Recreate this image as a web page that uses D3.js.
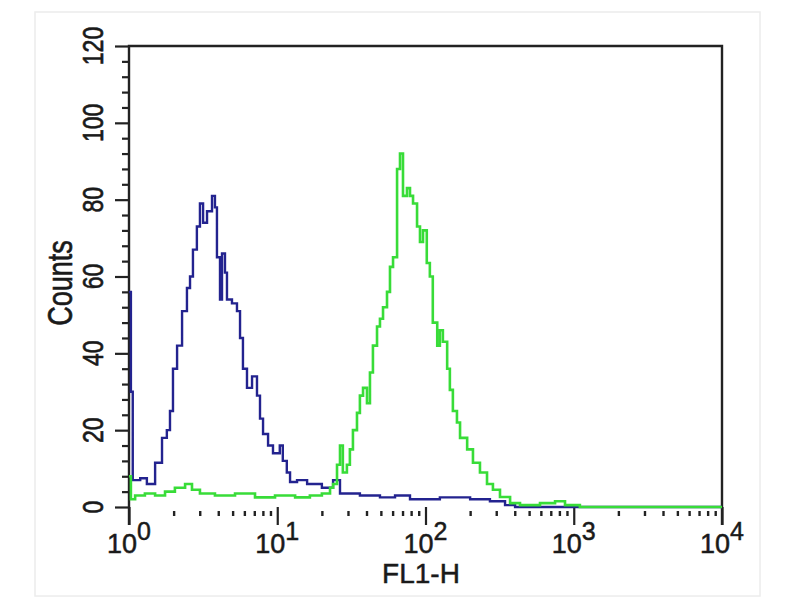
<!DOCTYPE html>
<html><head><meta charset="utf-8">
<script src="https://cdn.jsdelivr.net/npm/d3@7"></script>
<style>body{margin:0;background:#fff}svg{display:block}text{font-family:"Liberation Sans",Arial,sans-serif;fill:#1a1a1a;stroke:#1a1a1a;stroke-width:0.5px}</style>
</head><body>
<svg id="c" width="800" height="600"></svg>
<script>
// FL1-H channel values (bin starts) and counts
const blueX = [1.00,1.03,1.06,1.19,1.32,1.50,1.67,1.80,1.89,1.98,2.11,2.28,2.46,2.58,2.70,2.87,3.01,3.16,3.36,3.63,3.80,3.92,4.11,4.24,4.44,4.58,4.95,5.35,5.61,5.87,6.25,6.76,7.30,7.65,8.02,8.67,9.36,10.4,10.9,11.6,12.2,13.6,15.9,18.5,20.0,23.8,26.5,36.1,49.3,62.3,78.6,125,200,272,344,402,10000];
const blueY = [56,30,7,7.5,6,11.5,18,20,25,36,42,51,57,60,67,73,79,74,77,81,78,65,54,66,61,54,53,51,44,36,31,34,29,23,19,16,14,16,12,9,6.5,7,6,6,5,7,3.5,3,2.5,3,2,2.5,2,1.5,0.5,0,0];
const greenX = [1.00,1.03,1.10,1.28,1.50,1.75,2.04,2.39,2.66,3.01,3.80,5.19,7.08,9.66,13.2,16.6,20.0,22.7,23.8,25.3,26.5,27.7,29.5,30.9,32.4,34.5,36.1,37.9,40.3,42.2,44.2,47.1,49.3,51.7,55.0,57.6,60.4,64.3,67.3,70.5,75.0,78.6,82.4,87.7,91.8,96.2,102,107,112,120,125,131,140,146,153,163,171,191,209,233,260,285,318,372,434,592,748,873,1100,10000];
const greenY = [8,2,3,3.5,3,4,5,6,4.5,3.5,3,3.5,2.5,3,2.5,3,3.5,5,6,11,16,9,11,15,20,24.5,29,31,27,35,42,47,49,52,56,62.5,65,88,92,81,83,81,79,73,69,72,63.5,60,48,42,46,43,36,30.5,25,22,18,15,11.5,9,6,4.5,2.6,1,0.5,1,1.5,0.5,0,0];
const yTicks = [0,20,40,60,80,100,120];
const yMinor = [4,8,12,16,24,28,32,36,44,48,52,56,64,68,72,76,84,88,92,96,104,108,112,116];
const xTicks = [1,10,100,1000,10000];
const xExp = ["0","1","2","3","4"];
const xMinor = [2,3,4,5,6,7,8,9,20,30,40,50,60,70,80,90,200,300,400,500,600,700,800,900,2000,3000,4000,5000,6000,7000,8000,9000];

const svg = d3.select("#c");
const x = d3.scaleLog().domain([1,10000]).range([129,722]);
const y = d3.scaleLinear().domain([0,120]).range([507,46]);

// faint outer border
svg.append("rect").attr("x",35).attr("y",12).attr("width",725).attr("height",584)
  .attr("fill","none").attr("stroke","#ececec").attr("stroke-width",1.5);

// y axis ticks
const ga = svg.append("g").attr("transform","translate(129,0)");
ga.call(d3.axisLeft(y).tickValues(yTicks).tickSize(14).tickFormat(""));
ga.append("g").call(d3.axisLeft(y).tickValues(yMinor).tickSize(7).tickFormat(""));
ga.selectAll("path.domain").remove();
ga.selectAll("line").attr("stroke","#222").attr("stroke-width",2.2);

// x axis ticks
const gx = svg.append("g").attr("transform","translate(0,507)");
gx.call(d3.axisBottom(x).tickValues(xTicks).tickSize(18).tickFormat(""));
const gxm = svg.append("g").attr("transform","translate(0,511)");
gxm.call(d3.axisBottom(x).tickValues(xMinor).tickSize(5).tickFormat(""));
svg.selectAll("path.domain").remove();
gx.selectAll("line").attr("stroke","#222").attr("stroke-width",2.2);
gxm.selectAll("line").attr("stroke","#222").attr("stroke-width",2.4);

// frame: left axis, top, right
svg.append("path").attr("d",`M${x(1)},${y(0)+18}V${y(120)}H${x(10000)}V${y(0)+18}`)
  .attr("fill","none").attr("stroke","#222").attr("stroke-width",2.4);

// curves
const line = d3.line().curve(d3.curveStepAfter);
const bluePts = blueX.map((v,i)=>[x(v),y(blueY[i])]);
const greenPts = greenX.map((v,i)=>[x(v),y(greenY[i])]);
svg.append("path").attr("d",line(bluePts)).attr("fill","none").attr("stroke","#23238f").attr("stroke-width",2.4);
svg.append("path").attr("d",line(greenPts)).attr("fill","none").attr("stroke","#38dc38").attr("stroke-width",2.6);

// y labels
yTicks.forEach(v=>{
  svg.append("text").attr("transform",`translate(103,${y(v)}) rotate(-90) scale(1,1.28)`)
    .attr("text-anchor","middle").attr("font-size",23).text(v);
});
svg.append("text").attr("transform","translate(72,283) rotate(-90) scale(1,1.27)")
  .attr("text-anchor","middle").attr("font-size",27).text("Counts");

// x labels
xTicks.forEach((v,i)=>{
  const t = svg.append("text").attr("x",x(v)).attr("y",553).attr("text-anchor","middle").attr("font-size",27);
  t.append("tspan").text("10");
  t.append("tspan").attr("dy",-13).attr("font-size",25).text(xExp[i]);
});
svg.append("text").attr("x",421).attr("y",583).attr("text-anchor","middle").attr("font-size",28).text("FL1-H");
</script>
</body></html>
